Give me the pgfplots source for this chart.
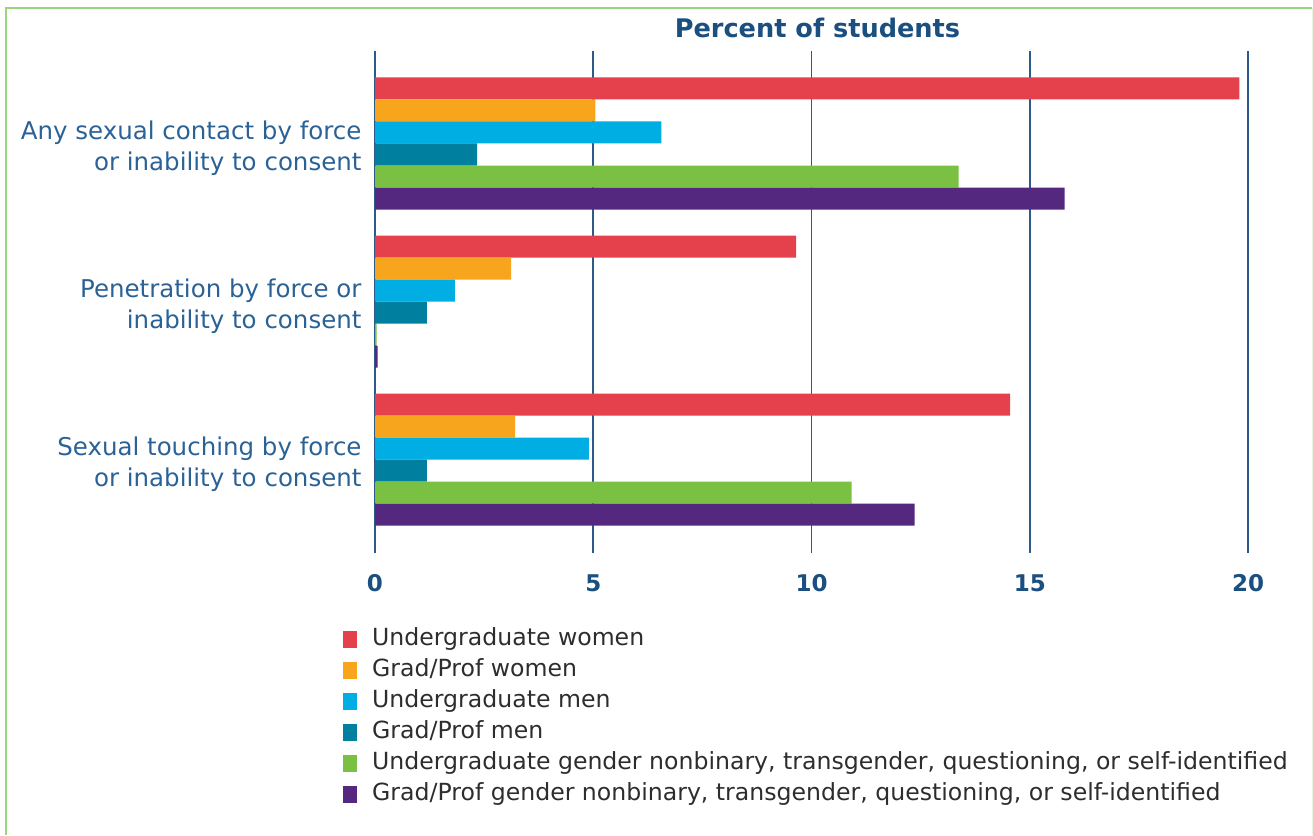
\documentclass[border=0pt]{standalone}
\usepackage{fontspec}
\setmainfont{DejaVu Sans}
\usepackage{pgfplots}
\usepackage{pgfplotstable}
\pgfplotsset{compat=1.18}
\definecolor{cRed}{RGB}{228,65,76}
\definecolor{cOrange}{RGB}{247,165,28}
\definecolor{cLBlue}{RGB}{0,174,227}
\definecolor{cTeal}{RGB}{0,127,159}
\definecolor{cGreen}{RGB}{122,192,67}
\definecolor{cPurple}{RGB}{85,40,128}
\definecolor{titleblue}{RGB}{26,79,128}
\definecolor{labelblue}{RGB}{43,98,150}
\definecolor{gridblue}{RGB}{45,90,135}
\definecolor{bordergreen}{RGB}{155,215,120}
\definecolor{legtext}{RGB}{45,45,45}

\pgfplotstableread{
cat uw gw um gm un gn
0 19.8 5.05 6.56 2.34 13.37 15.8
1 9.65 3.12 1.83 1.19 0.04 0.06
2 14.55 3.21 4.9 1.19 10.92 12.36
}\data

\begin{document}
\begin{tikzpicture}
\path[use as bounding box] (0,0) rectangle (1313pt,835pt);
\draw[bordergreen, line width=2pt] (6pt,0pt) -- (6pt,827pt) -- (1312pt,827pt);
\draw[bordergreen!25, line width=1pt] (1312pt,827pt) -- (1312pt,0pt);
\begin{axis}[
  at={(375pt,282pt)}, anchor=south west,
  scale only axis, width=873pt, height=502pt,
  xbar, bar width=0.1392,
  xmin=0, xmax=20, ymin=-0.585, ymax=2.59, y dir=reverse,
  xtick={0,5,10,15,20}, ytick={0,1,2},
  yticklabels={{Any sexual contact by force\\or inability to consent},{Penetration by force or\\inability to consent},{Sexual touching by force\\or inability to consent}},
  yticklabel style={align=right, font=\fontsize{24.5}{31}\selectfont, text=labelblue, xshift=-10pt, yshift=-5pt},
  xticklabel style={font=\fontsize{23}{28}\selectfont\bfseries, text=titleblue, yshift=-18pt},
  /pgf/number format/assume math mode=true,
  xmajorgrids, ymajorgrids=false,
  major grid style={gridblue, line width=1.6pt},
  major tick length=0pt,
  axis line style={draw=none},
  title={Percent of students},
  title style={font=\fontsize{25.6}{30}\selectfont\bfseries, text=titleblue, yshift=4pt, xshift=6pt},
  legend cell align=left,
  legend image code/.code={\fill[#1] (0pt,-8.5pt) rectangle (14pt,8.5pt); \path (27pt,0pt);},
  legend style={at={(-0.0367,-0.145)}, anchor=north west, draw=none, fill=none,
    inner sep=0pt, font=\fontsize{23.6}{28}\selectfont, text=legtext,
    nodes={inner sep=2pt, text height=17pt, text depth=5pt}, row sep=5pt},
]
\addplot[fill=cRed, draw=none, bar shift=-0.348] table[x=uw,y=cat]{\data};
\addplot[fill=cOrange, draw=none, bar shift=-0.2088] table[x=gw,y=cat]{\data};
\addplot[fill=cLBlue, draw=none, bar shift=-0.0696] table[x=um,y=cat]{\data};
\addplot[fill=cTeal, draw=none, bar shift=0.0696] table[x=gm,y=cat]{\data};
\addplot[fill=cGreen, draw=none, bar shift=0.2088] table[x=un,y=cat]{\data};
\addplot[fill=cPurple, draw=none, bar shift=0.348] table[x=gn,y=cat]{\data};
\legend{Undergraduate women, Grad/Prof women, Undergraduate men, Grad/Prof men, {Undergraduate gender nonbinary, transgender, questioning, or self-identified}, {Grad/Prof gender nonbinary, transgender, questioning, or self-identified}}
\end{axis}
\end{tikzpicture}
\end{document}
